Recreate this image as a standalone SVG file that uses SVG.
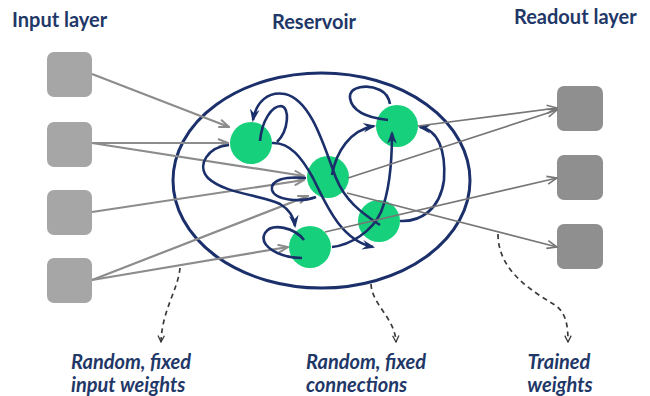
<svg xmlns="http://www.w3.org/2000/svg" width="650" height="396" viewBox="0 0 650 396">
<defs>
<style>
.t{font-family:Lato,"Liberation Sans",sans-serif;font-weight:bold;fill:#1f3868}
.h{font-size:20px}
.c{font-size:20px;font-style:italic}
.in{fill:#a6a6a6}
.out{fill:#8f8f8f}
.n{fill:#17d07c}
.g{stroke:#8c8c8c;stroke-width:2.2;fill:none;marker-end:url(#ga)}
.g2{stroke:#767676;stroke-width:1.6;fill:none;marker-end:url(#ga2)}
.b{stroke:#1b2f6b;stroke-width:2.6;fill:none}
.ba{marker-end:url(#ba)}
.d{stroke:#3a3a3a;stroke-width:1.7;fill:none;stroke-dasharray:5 4;marker-end:url(#da)}
</style>
<marker id="ga" viewBox="0 0 12 10" refX="11" refY="5" markerWidth="12" markerHeight="10" markerUnits="userSpaceOnUse" orient="auto"><path d="M1,1 L11,5 L1,9" fill="none" stroke="#8c8c8c" stroke-width="2"/></marker>
<marker id="ga2" viewBox="0 0 12 10" refX="11" refY="5" markerWidth="12" markerHeight="10" markerUnits="userSpaceOnUse" orient="auto"><path d="M1,1 L11,5 L1,9" fill="none" stroke="#767676" stroke-width="1.6"/></marker>
<marker id="ba" viewBox="0 0 12 10" refX="10" refY="5" markerWidth="13" markerHeight="11" markerUnits="userSpaceOnUse" orient="auto"><path d="M0,0.5 L12,5 L0,9.5 L4,5z" fill="#1b2f6b"/></marker>
<marker id="da" viewBox="0 0 10 10" refX="9" refY="5" markerWidth="8" markerHeight="8" markerUnits="userSpaceOnUse" orient="auto"><path d="M1,1 L9,5 L1,9" fill="none" stroke="#3a3a3a" stroke-width="1.6"/></marker>
</defs>

<g id="titles">
<text class="t h" x="12" y="27">Input layer</text>
<text class="t h" x="272" y="29">Reservoir</text>
<text class="t h" x="514" y="24">Readout layer</text>
</g>

<g id="reservoir"><ellipse cx="321.5" cy="180.5" rx="148.5" ry="107.5" fill="none" stroke="#1b2f6b" stroke-width="3"/></g>

<g id="in1"><rect class="in" x="47" y="52" width="45" height="45" rx="7"/></g>
<g id="in2"><rect class="in" x="47" y="122" width="45" height="45" rx="7"/></g>
<g id="in3"><rect class="in" x="47" y="190" width="45" height="45" rx="7"/></g>
<g id="in4"><rect class="in" x="47" y="258" width="45" height="45" rx="7"/></g>

<g id="out1"><rect class="out" x="557" y="86" width="46" height="45" rx="7"/></g>
<g id="out2"><rect class="out" x="557" y="155" width="46" height="45" rx="7"/></g>
<g id="out3"><rect class="out" x="557" y="224" width="46" height="45" rx="7"/></g>

<g id="r1"><circle class="n" cx="251" cy="143" r="21"/></g>
<g id="r2"><circle class="n" cx="328" cy="177" r="21"/></g>
<g id="r3"><circle class="n" cx="397" cy="126" r="21"/></g>
<g id="r4"><circle class="n" cx="379" cy="221" r="21"/></g>
<g id="r5"><circle class="n" cx="310" cy="247" r="21"/></g>

<g id="connectors">
<path class="g" d="M92,74 L229,127"/>
<path class="g" d="M92,143 L228,143"/>
<path class="g" d="M92,143 L304,176"/>
<path class="g" d="M92,212 L304,180"/>
<path class="g" d="M92,280 L308,196"/>
<path class="g" d="M92,280 L288,247"/>

<path class="b" d="M260,141 C262,120 272,106 281,106 C290,107 289,130 277,142"/>
<path class="b ba" d="M380,225 C360,212 345,200 336,178 C325,150 312,100 285,94 C268,91 256,102 253,120"/>
<path class="b ba" d="M229,145 C208,147 196,165 208,178 C225,194 262,195 280,204 C290,210 294,217 295,226"/>
<path class="b ba" d="M272,143 C290,142 302,158 313,178 C325,202 340,240 373,247"/>
<path class="b" d="M316,197 C300,203 275,200 272,190 C270,180 285,176 306,178"/>
<path class="b" d="M304,240 C295,228 272,222 265,233 C258,246 280,258 302,258"/>
<path class="b ba" d="M332,247 C350,245 372,232 381,212 C390,190 392,160 392,133"/>
<path class="b ba" d="M332,175 C336,152 350,130 374,126"/>
<path class="b" d="M388,120 C370,118 352,112 350,98 C349,86 368,84 380,90 C386,93 389,98 390,104"/>
<path class="b ba" d="M400,221 C420,222 440,210 444,180 C446,150 438,130 420,127"/>

<path class="g2" d="M418,126 L557,108"/>
<path class="g2" d="M348,178 L557,110"/>
<path class="g2" d="M325,232 L557,178"/>
<path class="g2" d="M347,193 L557,247"/>

<path class="d" d="M180,268 C178,290 162,310 161,342"/>
<path class="d" d="M371,284 C372,305 395,318 396,342"/>
<path class="d" d="M498,234 C498,270 530,290 555,305 C566,313 568,325 568,342"/>
</g>

<g id="labels">
<text class="t c" x="71" y="369">Random, fixed</text>
<text class="t c" x="71" y="392">input weights</text>
<text class="t c" x="306" y="369">Random, fixed</text>
<text class="t c" x="306" y="392">connections</text>
<text class="t c" x="559" y="369" text-anchor="middle">Trained</text>
<text class="t c" x="560" y="392" text-anchor="middle">weights</text>
</g>
</svg>
